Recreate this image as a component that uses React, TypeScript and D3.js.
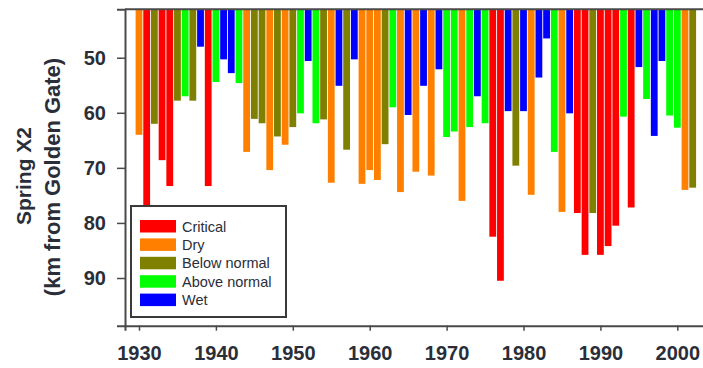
import { useEffect, useRef } from "react";
import * as d3 from "d3";

// water year types: C critical, D dry, BN below normal, AN above normal, W wet
const years = d3.range(1930, 2003);
const x2 = [
  64, 80, 62, 68.6, 73.3, 57.8, 57.0, 57.8, 48.0, 73.3,
  54.4, 50.3, 52.8, 54.6, 67.1, 61.1, 61.9, 70.4, 64.3, 65.8,
  62.6, 60.1, 50.6, 61.9, 61.2, 72.7, 55.1, 66.7, 50.3, 72.9,
  70.4, 72.2, 65.7, 59.0, 74.4, 60.4, 70.7, 55.1, 71.4, 52.1,
  64.4, 63.4, 76.0, 62.6, 57.0, 61.9, 82.5, 90.5, 59.7, 69.6,
  59.7, 74.9, 53.6, 46.5, 67.1, 78.0, 60.1, 78.2, 85.8, 78.2,
  85.8, 84.2, 80.5, 60.7, 77.2, 51.7, 57.5, 64.2, 50.6, 60.5,
  62.7, 74.0, 73.6,
];
const yearType = [
  "D", "C", "BN", "C", "C", "BN", "AN", "BN", "W", "C",
  "AN", "W", "W", "AN", "D", "BN", "BN", "D", "BN", "D",
  "BN", "AN", "W", "AN", "BN", "D", "W", "BN", "W", "D",
  "D", "D", "BN", "AN", "D", "W", "D", "W", "D", "W",
  "AN", "AN", "D", "AN", "W", "AN", "C", "C", "W", "BN",
  "W", "D", "W", "W", "AN", "D", "W", "C", "C", "BN",
  "C", "C", "C", "AN", "C", "W", "AN", "W", "W", "AN",
  "AN", "D", "BN",
];
const typeKeys = ["C", "D", "BN", "AN", "W"];
const typeLabels = ["Critical", "Dry", "Below normal", "Above normal", "Wet"];
const typeColors = ["#ff0000", "#ff8000", "#808000", "#00ff00", "#0000ff"];
const yTicks = [50, 60, 70, 80, 90];
const xTicks = [1930, 1940, 1950, 1960, 1970, 1980, 1990, 2000];

const App = () => {
  const ref = useRef<SVGSVGElement>(null);

  useEffect(() => {
    if (!ref.current) return;
    const width = 703;
    const left = 125;
    const top = 9.3;
    const bottom = 325.7;
    const font = "'Liberation Sans', Arial, sans-serif";
    const axisColor = "#4a4a4a";
    const textColor = "#2a2e38";

    const svg = d3.select(ref.current);
    svg.selectAll("*").remove();

    const x = d3.scaleLinear().domain([1928.18, 2003.6]).range([left, width + 2]);
    const y = d3.scaleLinear().domain([41.21, 98.66]).range([top, bottom]);
    const color = d3.scaleOrdinal<string, string>().domain(typeKeys).range(typeColors);
    const barW = 6.8;

    // bars hanging from the top
    svg
      .append("g")
      .selectAll("rect")
      .data(years)
      .join("rect")
      .attr("x", (d) => x(d) - barW / 2)
      .attr("y", y(41.21))
      .attr("width", barW)
      .attr("height", (_, i) => y(x2[i]) - y(41.21))
      .attr("fill", (_, i) => color(yearType[i]));

    // top frame line
    svg
      .append("line")
      .attr("x1", left)
      .attr("x2", width)
      .attr("y1", top)
      .attr("y2", top)
      .attr("stroke", axisColor)
      .attr("stroke-width", 2);

    const yAxis = svg
      .append("g")
      .attr("transform", `translate(${left},0)`)
      .call(d3.axisLeft(y).tickValues(yTicks).tickSize(8).tickPadding(11));
    yAxis.select(".domain").attr("stroke", axisColor).attr("stroke-width", 2);
    yAxis.selectAll(".tick line").attr("stroke", axisColor).attr("stroke-width", 1.5);
    yAxis
      .selectAll(".tick text")
      .attr("font-family", font)
      .attr("font-size", 20)
      .attr("font-weight", "bold")
      .attr("fill", textColor);

    const xAxis = svg
      .append("g")
      .attr("transform", `translate(0,${bottom})`)
      .call(
        d3
          .axisBottom(x)
          .tickValues(xTicks)
          .tickFormat(d3.format("d"))
          .tickSize(5)
          .tickPadding(15)
      );
    xAxis.select(".domain").attr("stroke", axisColor).attr("stroke-width", 2);
    xAxis.selectAll(".tick line").attr("stroke", axisColor).attr("stroke-width", 1.5);
    xAxis
      .selectAll(".tick text")
      .attr("font-family", font)
      .attr("font-size", 20)
      .attr("font-weight", "bold")
      .attr("fill", textColor);

    // y title
    const title = svg
      .append("g")
      .attr("font-family", font)
      .attr("font-weight", "bold")
      .attr("fill", textColor)
      .attr("text-anchor", "middle");
    title
      .append("text")
      .attr("transform", "translate(31,176) rotate(-90)")
      .attr("font-size", 21)
      .text("Spring X2");
    title
      .append("text")
      .attr("transform", "translate(60,177) rotate(-90)")
      .attr("font-size", 22)
      .text("(km from Golden Gate)");

    // legend
    const lg = svg.append("g").attr("transform", "translate(131,206)");
    lg.append("rect")
      .attr("width", 155)
      .attr("height", 111)
      .attr("fill", "white")
      .attr("stroke", "#3a3a3a")
      .attr("stroke-width", 2);
    const item = lg
      .selectAll("g")
      .data(typeKeys)
      .join("g")
      .attr("transform", (_, i) => `translate(9,${14 + i * 18.4})`);
    item
      .append("rect")
      .attr("width", 36)
      .attr("height", 12.5)
      .attr("fill", (d) => color(d));
    item
      .append("text")
      .attr("x", 42)
      .attr("y", 6.5)
      .attr("dy", "0.35em")
      .attr("font-family", font)
      .attr("font-size", 14.5)
      .attr("fill", textColor)
      .text((_, i) => typeLabels[i]);
  }, []);

  return (
    <svg
      ref={ref}
      width={703}
      height={368}
      style={{ position: "absolute", left: 0, top: 0, background: "white" }}
    />
  );
};

export default App;
